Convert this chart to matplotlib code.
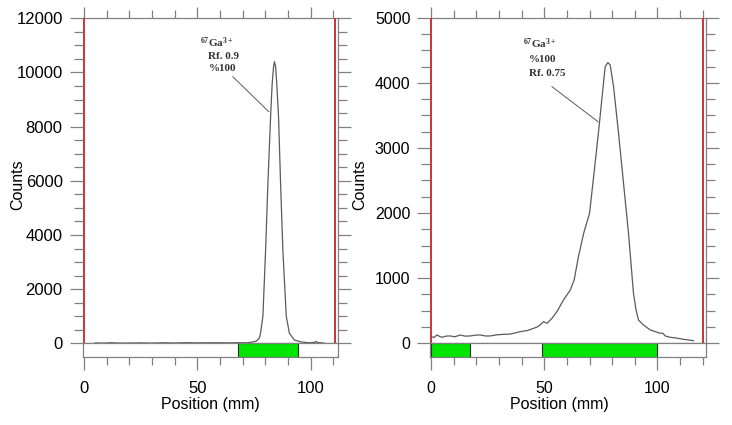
import matplotlib
matplotlib.use("Agg")
import matplotlib.pyplot as plt
from matplotlib.ticker import MultipleLocator

plt.rcParams['font.family'] = ['Liberation Sans', 'DejaVu Sans']
plt.rcParams['mathtext.fontset'] = 'custom'
plt.rcParams['mathtext.rm'] = 'Liberation Serif:bold'
plt.rcParams['mathtext.it'] = 'Liberation Serif:italic:bold'
plt.rcParams['mathtext.bf'] = 'Liberation Serif:bold'

# ---------------- data ----------------
# Panel A (left)
a_pos = [5, 8, 12, 16, 20, 25, 30, 35, 40, 45, 50, 55, 60, 65, 68, 70, 72, 74, 76, 77, 77.5,
         78, 79, 80.2, 81.2, 82.4, 83.1, 83.7, 84.1, 84.6, 85.1, 85.9, 86.8, 87.8, 89.3,
         90.7, 92.9, 95.9, 98, 100, 102, 102.5, 103, 105, 106]
a_counts = [15, 5, 20, 5, 10, 15, 5, 20, 10, 25, 15, 20, 20, 15, 25, 20, 20, 40, 80, 150, 200,
            400, 1000, 3450, 5900, 8370, 9600, 10210, 10400, 10210, 9600, 8370, 5900, 3450, 1000,
            370, 120, 50, 30, 20, 40, 70, 30, 15, 10]
a_lanes = [110.7]
a_green_start = [67.9]
a_green_end = [94.4]

# Panel B (right)
b_pos = [0, 1.3, 2.6, 3.8, 4.9, 6.5, 8.5, 10.5, 12.9, 15.0, 17.4, 19.5, 21.8, 24.0, 26.2, 29.0,
         32.1, 34.5, 36.5, 39.4, 42.4, 45.3, 46.8, 48.2, 49.7, 51.2, 53.4, 55.6, 58.5, 61.5,
         63.2, 65.1, 67.4, 70.0, 71.8, 73.9, 75.4, 76.9, 78.1, 79.1, 80.6, 82.8, 85.0, 87.2,
         89.4, 90.5, 91.6, 93.8, 96.8, 99.0, 101.2, 102.4, 103.4, 105.6, 108.5, 111.5, 113.5, 115.9]
b_counts = [102, 90, 128, 105, 92, 110, 113, 100, 128, 110, 113, 125, 128, 112, 113, 130,
            138, 140, 154, 179, 195, 230, 250, 282, 333, 307, 384, 486, 666, 819,
            973, 1331, 1690, 1997, 2560, 3226, 3738, 4250, 4311, 4275, 3942, 3226, 2458, 1690,
            768, 520, 358, 282, 205, 180, 154, 154, 113, 92, 80, 61, 52, 41]
b_lanes = [0, 120.0]
b_green_start = [0, 49.0]
b_green_end = [17.0, 100.0]

a_label_lines = ["$^{67}$Ga$^{3+}$", "Rf. 0.9", "%100"]
b_label_lines = ["$^{67}$Ga$^{3+}$", "%100", "Rf. 0.75"]

# ---------------- layout ----------------
W, H = 732, 425
fig = plt.figure(figsize=(W / 100, H / 100), dpi=100)

GRAY = '#808080'
RED = '#cc3333'
CURVE = '#5a5a5a'
GREEN = '#00e600'
PX = 0.72  # points per pixel


def add_ax(x0, x1, y0, y1):
    return fig.add_axes([x0 / W, 1 - y1 / H, (x1 - x0) / W, (y1 - y0) / H])


def style_main(ax, xlim, ylim, ymaj, ymin_step, ylab_size):
    ax.set_xlim(*xlim)
    ax.set_ylim(*ylim)
    for s in ['top', 'right', 'bottom']:
        ax.spines[s].set_color(GRAY)
        ax.spines[s].set_linewidth(0.9)
    ax.spines['left'].set_visible(False)
    ax.yaxis.set_major_locator(MultipleLocator(ymaj))
    ax.yaxis.set_minor_locator(MultipleLocator(ymin_step))
    ax.xaxis.set_major_locator(MultipleLocator(50))
    ax.xaxis.set_minor_locator(MultipleLocator(10))
    ax.tick_params(axis='y', which='both', direction='out', left=True, right=True,
                   labelleft=True, labelright=False, color=GRAY, width=0.9)
    ax.tick_params(axis='y', which='major', length=13 * PX, pad=7 * PX, labelsize=ylab_size)
    ax.tick_params(axis='y', which='minor', length=9 * PX)
    ax.tick_params(axis='x', which='both', direction='out', top=True, bottom=False,
                   labeltop=False, labelbottom=False, color=GRAY, width=0.9)
    ax.tick_params(axis='x', which='major', length=11 * PX)
    ax.tick_params(axis='x', which='minor', length=8 * PX)


def style_strip(ax, xlim, starts, ends, xlab_size):
    ax.set_xlim(*xlim)
    ax.set_ylim(0, 1)
    for s in ax.spines.values():
        s.set_color(GRAY)
        s.set_linewidth(0.9)
    ax.set_yticks([])
    ax.xaxis.set_major_locator(MultipleLocator(50))
    ax.xaxis.set_minor_locator(MultipleLocator(10))
    ax.tick_params(axis='x', which='both', direction='out', color=GRAY, width=0.9)
    ax.tick_params(axis='x', which='major', length=13 * PX, pad=11 * PX, labelsize=xlab_size)
    ax.tick_params(axis='x', which='minor', length=8 * PX)
    for s0, s1 in zip(starts, ends):
        ax.axvspan(s0, s1, ymin=0, ymax=1, facecolor=GREEN, edgecolor='#2a2a2a', lw=0.8)


def fx(px):
    return px / W


def fy(py):
    return 1 - py / H


# ----- Panel A -----
axA = add_ax(82.7, 337.7, 18.3, 343.3)
style_main(axA, (-0.5, 112.0), (0, 12000), 2000, 500, 12)
axA.axvline(0, color=RED, lw=1.4, zorder=3)
for v in a_lanes:
    axA.axvline(v, color=RED, lw=1.4, zorder=3)
axA.plot(a_pos, a_counts, color=CURVE, lw=0.9)
axA.plot([65.7, 81.6], [9844, 8552], color=CURVE, lw=0.7)
tA_x = [51.1, 55.0, 55.0]
tA_y = [10932, 10490, 10049]
for t, x, y in zip(a_label_lines, tA_x, tA_y):
    axA.text(x, y, t, family='Liberation Serif', fontweight='bold', fontsize=8,
             color='#333333', ha='left', va='baseline')

sA = add_ax(82.7, 337.7, 343.3, 357.3)
style_strip(sA, (-0.5, 112.0), a_green_start, a_green_end, 12)

fig.text(fx(17.5), fy(185), 'Counts', rotation=90, ha='center', va='center', fontsize=11.5)
fig.text(fx(210), fy(404), 'Position (mm)', ha='center', va='center', fontsize=11.5)

# ----- Panel B -----
axB = add_ax(430.4, 705.7, 17.7, 343.3)
style_main(axB, (-0.3, 121.3), (0, 5000), 1000, 250, 11.5)
for v in b_lanes:
    axB.axvline(v, color=RED, lw=1.4, zorder=3)
axB.plot(b_pos, b_counts, color=CURVE, lw=0.9)
axB.plot([53.4, 73.7], [3941, 3404], color=CURVE, lw=0.7)
tB_x = [40.7, 43.4, 43.4]
tB_y = [4531, 4325, 4106]
for t, x, y in zip(b_label_lines, tB_x, tB_y):
    axB.text(x, y, t, family='Liberation Serif', fontweight='bold', fontsize=8,
             color='#333333', ha='left', va='baseline')

sB = add_ax(430.4, 705.7, 343.3, 356.7)
style_strip(sB, (-0.3, 121.3), b_green_start, b_green_end, 11.5)

fig.text(fx(360), fy(185), 'Counts', rotation=90, ha='center', va='center', fontsize=11.5)
fig.text(fx(559), fy(404), 'Position (mm)', ha='center', va='center', fontsize=11.5)

fig.savefig('out.png', dpi=100)
